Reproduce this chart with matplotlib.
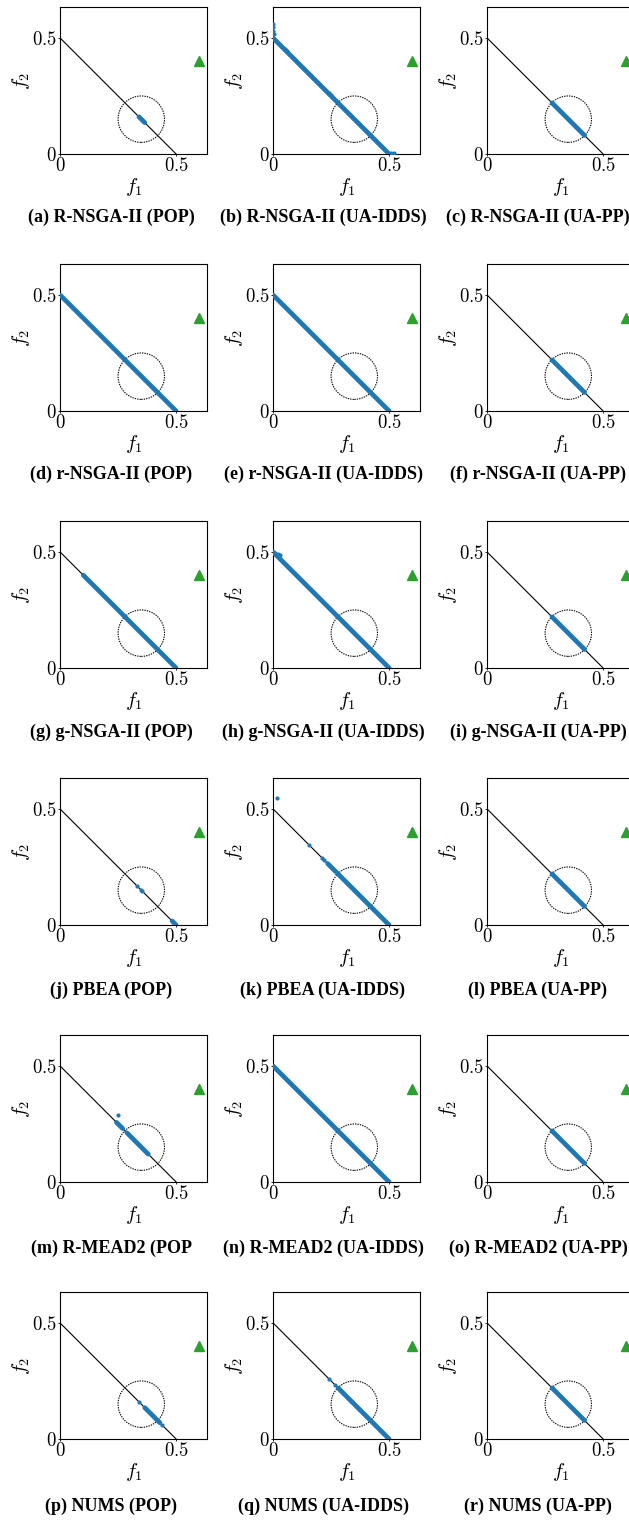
import matplotlib
matplotlib.use("Agg")
import matplotlib.pyplot as plt
from matplotlib.patches import Circle

plt.rcParams['mathtext.fontset'] = 'cm'
plt.rcParams['font.family'] = ['Liberation Serif', 'DejaVu Serif']

captions = [
    '(a) R-NSGA-II (POP)', '(b) R-NSGA-II (UA-IDDS)', '(c) R-NSGA-II (UA-PP)',
    '(d) r-NSGA-II (POP)', '(e) r-NSGA-II (UA-IDDS)', '(f) r-NSGA-II (UA-PP)',
    '(g) g-NSGA-II (POP)', '(h) g-NSGA-II (UA-IDDS)', '(i) g-NSGA-II (UA-PP)',
    '(j) PBEA (POP)', '(k) PBEA (UA-IDDS)', '(l) PBEA (UA-PP)',
    '(m) R-MEAD2 (POP', '(n) R-MEAD2 (UA-IDDS)', '(o) R-MEAD2 (UA-PP)',
    '(p) NUMS (POP)', '(q) NUMS (UA-IDDS)', '(r) NUMS (UA-PP)',
]

# true Pareto front f1 + f2 = 0.5
front_f1 = [0.0, 0.5]
front_f2 = [0.5, 0.0]

# reference point and region of interest
ref_point = (0.6, 0.4)
roi_center = (0.35, 0.15)
roi_radius = 0.1

# dense parts of each obtained set: ((f1 start, f1 end), (f2 start, f2 end))
full = ((0.0, 0.5), (0.5, 0.0))
roi = ((0.28, 0.42), (0.22, 0.08))
dense = [
    [((0.34, 0.365), (0.16, 0.135))],
    [full],
    [roi],
    [full],
    [full],
    [roi],
    [((0.1, 0.5), (0.4, 0.0))],
    [full],
    [roi],
    [((0.483, 0.5), (0.017, 0.0))],
    [((0.235, 0.5), (0.265, 0.0))],
    [roi],
    [((0.243, 0.27), (0.257, 0.23)), ((0.29, 0.38), (0.21, 0.12))],
    [full],
    [roi],
    [((0.365, 0.43), (0.135, 0.07))],
    [((0.281, 0.5), (0.219, 0.0))],
    [roi],
]

# isolated solutions of each obtained set
pts_f1 = [
    [],
    [0.0, 0.0, 0.002, 0.005, 0.05, 0.06, 0.13, 0.16, 0.24, 0.25, 0.51, 0.52],
    [], [], [], [], [],
    [0.01, 0.02, 0.03],
    [],
    [0.331, 0.348, 0.352],
    [0.017, 0.155, 0.21, 0.22],
    [],
    [0.25, 0.285],
    [], [],
    [0.341, 0.44],
    [0.241, 0.266],
    [],
]
pts_f2 = [
    [],
    [0.56, 0.545, 0.53, 0.515, 0.452, 0.443, 0.372, 0.342, 0.262, 0.252, 0.004, 0.003],
    [], [], [], [], [],
    [0.497, 0.492, 0.488],
    [],
    [0.17, 0.152, 0.148],
    [0.546, 0.345, 0.29, 0.28],
    [],
    [0.29, 0.215],
    [], [],
    [0.159, 0.06],
    [0.259, 0.234],
    [],
]

W, H = 629, 1520
fig = plt.figure(figsize=(W / 100, H / 100), dpi=100)

col_left = [60, 273, 487]
col_caption = [111, 323, 538]
row_top = 7
row_step = 257
size = 147

for i in range(18):
    r, c = divmod(i, 3)
    top = row_top + r * row_step
    ax = fig.add_axes([col_left[c] / W, 1 - (top + size) / H, size / W, size / H])

    ax.plot(front_f1, front_f2, color='black', lw=0.8, zorder=1)
    ax.add_patch(Circle(roi_center, roi_radius, fill=False, ls=(0, (1.2, 1.0)),
                        lw=0.8, color='black', zorder=2))
    for (sx, sy) in dense[i]:
        ax.plot(sx, sy, color='tab:blue', lw=3.4, solid_capstyle='round', zorder=3)
    ax.scatter(pts_f1[i], pts_f2[i], s=9, color='tab:blue', lw=0, zorder=3)
    ax.plot(*ref_point, marker='^', color='tab:green', ms=7, zorder=4)

    ax.set_xlim(0, 0.633)
    ax.set_ylim(0, 0.633)
    ax.set_xticks([0, 0.5])
    ax.set_yticks([0, 0.5])
    ax.set_xticklabels(['$0$', '$0.5$'])
    ax.set_yticklabels(['$0$', '$0.5$'])
    ax.tick_params(length=1.5, width=0.6, labelsize=13.5, pad=1)
    ax.set_xlabel('$f_1$', fontsize=14.5)
    ax.set_ylabel('$f_2$', fontsize=14.5)
    ax.xaxis.set_label_coords(0.5, -0.15)
    ax.yaxis.set_label_coords(-0.19, 0.5)
    for sp in ax.spines.values():
        sp.set_linewidth(0.8)

    fig.text(col_caption[c] / W, 1 - (217 + r * 257.8) / H, captions[i],
             ha='center', va='center', fontsize=13, fontweight='bold')

fig.savefig('out.png', dpi=100)
